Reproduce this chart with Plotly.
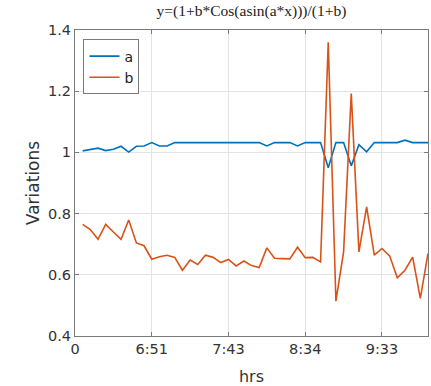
import plotly.graph_objects as go

x_vals = list(range(1, 47))

series_a = [1.005, 1.010, 1.014, 1.006, 1.010, 1.020, 1.001, 1.020, 1.021, 1.032,
            1.021, 1.021, 1.032, 1.032, 1.032, 1.032, 1.032, 1.032, 1.032, 1.032,
            1.032, 1.032, 1.032, 1.032, 1.021, 1.032, 1.032, 1.032, 1.021, 1.032,
            1.032, 1.032, 0.950, 1.032, 1.032, 0.956, 1.025, 1.002, 1.032, 1.032,
            1.032, 1.032, 1.040, 1.032, 1.032, 1.032]

series_b = [0.765, 0.748, 0.716, 0.765, 0.740, 0.716, 0.779, 0.704, 0.695, 0.651,
            0.659, 0.664, 0.657, 0.615, 0.648, 0.634, 0.664, 0.657, 0.640, 0.650,
            0.629, 0.645, 0.630, 0.624, 0.688, 0.654, 0.653, 0.652, 0.690, 0.656,
            0.657, 0.642, 1.360, 0.514, 0.675, 1.192, 0.675, 0.822, 0.664, 0.686,
            0.662, 0.590, 0.615, 0.658, 0.523, 0.670]

x_tickvals = [0, 10, 20, 30, 40]
x_ticktext = ["0", "6:51", "7:43", "8:34", "9:33"]
y_tickvals = [0.4, 0.6, 0.8, 1.0, 1.2, 1.4]
y_ticktext = ["0.4", "0.6", "0.8", "1", "1.2", "1.4"]

fig = go.Figure()
fig.add_trace(go.Scatter(x=x_vals, y=series_a, mode="lines", name="a",
                         line=dict(color="#0072BD", width=1.6)))
fig.add_trace(go.Scatter(x=x_vals, y=series_b, mode="lines", name="b",
                         line=dict(color="#D95319", width=1.6)))

axis_common = dict(
    showgrid=True, gridcolor="#e3e3e3", gridwidth=1,
    showline=True, linecolor="#7a7a7a", linewidth=1, mirror="ticks",
    ticks="inside", ticklen=4, tickcolor="#7a7a7a",
    zeroline=False, automargin=False,
    tickfont=dict(family="DejaVu Sans", size=14.5, color="#333333"),
)

fig.update_layout(
    width=431, height=386,
    margin=dict(l=75, r=3, t=30, b=50, autoexpand=False),
    paper_bgcolor="white", plot_bgcolor="white",
    title=dict(text="y=(1+b*Cos(asin(a*x)))/(1+b)",
               font=dict(family="Liberation Serif", size=15.5, color="#222222"),
               x=0.5, xref="paper", xanchor="center",
               y=1 - 11 / 386, yref="container", yanchor="middle"),
    xaxis=dict(range=[0, 46], tickvals=x_tickvals, ticktext=x_ticktext,
               title=dict(text="hrs", standoff=14,
                          font=dict(family="DejaVu Sans", size=16, color="#333333")),
               **axis_common),
    yaxis=dict(range=[0.4, 1.4], tickvals=y_tickvals, ticktext=y_ticktext,
               title=dict(text="Variations", standoff=4,
                          font=dict(family="DejaVu Sans", size=17, color="#333333")),
               **axis_common),
    legend=dict(x=0.024, y=0.969, xanchor="left", yanchor="top",
                bgcolor="white", bordercolor="#7a7a7a", borderwidth=1,
                font=dict(family="DejaVu Sans", size=14, color="#222222"),
                tracegroupgap=0, itemwidth=30),
    showlegend=True,
)

fig.write_html("out.html",
               config={"displayModeBar": False},
               post_script="document.body.style.margin='0px';document.body.style.overflow='hidden';")
